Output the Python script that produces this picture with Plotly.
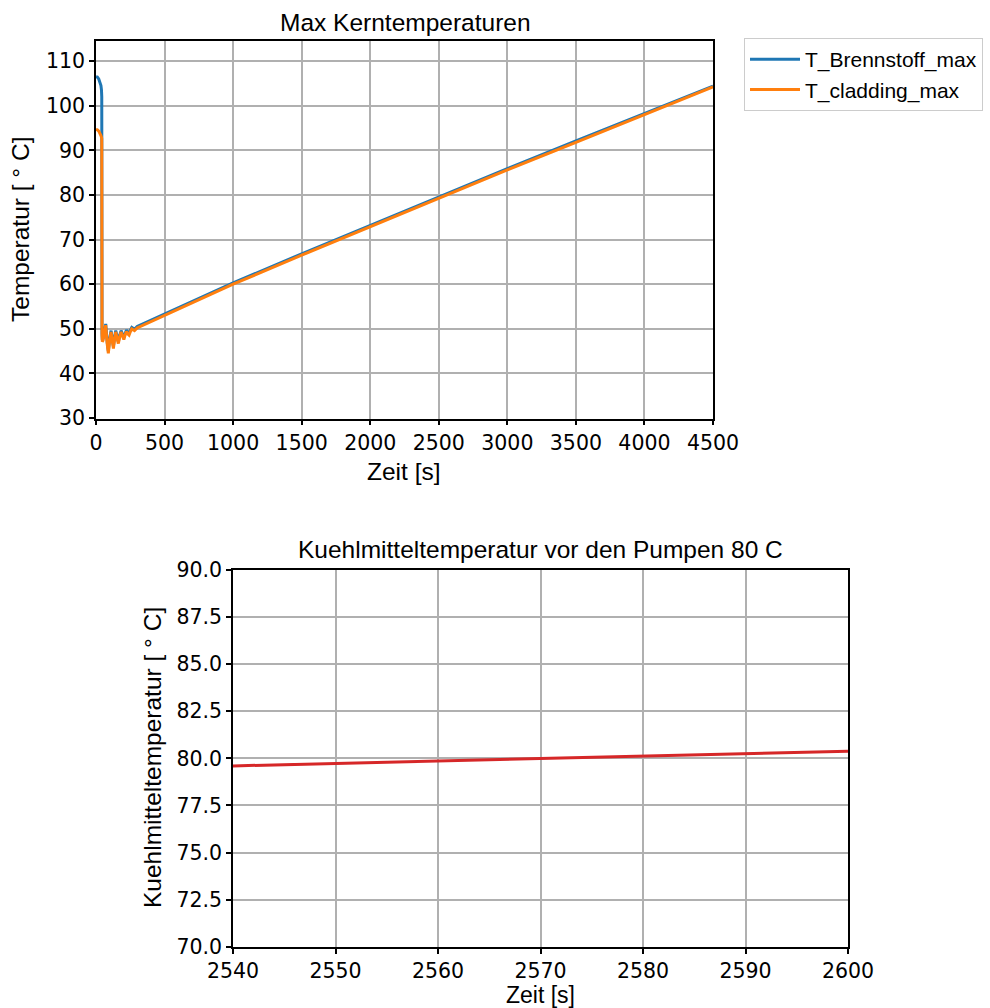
import plotly.graph_objects as go

# ---------------- data ----------------
t_core = [0, 10, 20, 30, 36, 40, 42, 44, 46, 52, 60, 71, 82, 90, 100, 110, 118, 127,
          136, 144, 153, 163, 173, 183, 193, 203, 212, 222, 231, 241, 251, 261, 271,
          281, 300, 500, 1000, 1500, 2000, 2500, 3000, 3500, 4000, 4500]
T_brennstoff = [106.5, 106.4, 106.0, 105.3, 104.5, 103.5, 102.0, 48.9, 47.5, 47.9, 49.4,
                51.1, 46.9, 45.0, 47.9, 49.6, 47.9, 46.1, 48.2, 49.6, 48.4, 47.1, 48.6,
                49.6, 48.8, 48.0, 48.9, 49.7, 49.3, 49.0, 49.7, 50.3, 50.1, 49.9, 50.5,
                53.3, 60.3, 66.8, 73.2, 79.6, 85.9, 92.1, 98.3, 104.4]
T_cladding = [94.7, 94.6, 94.3, 93.8, 93.3, 92.9, 92.6, 48.5, 47.1, 47.5, 49.0, 50.8,
              46.5, 44.5, 47.5, 49.3, 47.5, 45.6, 47.8, 49.3, 48.0, 46.7, 48.2, 49.3,
              48.4, 47.6, 48.6, 49.4, 48.9, 48.6, 49.4, 50.0, 49.8, 49.6, 50.2, 53.0,
              60.0, 66.5, 72.9, 79.3, 85.6, 91.8, 98.0, 104.2]

t_pump = [2540, 2550, 2560, 2570, 2580, 2590, 2600]
T_pump = [79.60, 79.73, 79.86, 80.00, 80.13, 80.26, 80.38]

x_ticks_top = [0, 500, 1000, 1500, 2000, 2500, 3000, 3500, 4000, 4500]
y_ticks_top = [30, 40, 50, 60, 70, 80, 90, 100, 110]
x_ticks_bot = [2540, 2550, 2560, 2570, 2580, 2590, 2600]
y_ticks_bot = [70.0, 72.5, 75.0, 77.5, 80.0, 82.5, 85.0, 87.5, 90.0]

W, H = 990, 1008
TICKFONT = dict(family="DejaVu Sans", size=20.5, color="black")
LABFONT = dict(family="Liberation Sans, Arial", size=24.5, color="black")

fig = go.Figure()
fig.add_trace(go.Scatter(x=t_core, y=T_brennstoff, mode="lines", name="T_Brennstoff_max",
                         line=dict(color="#1f77b4", width=3), xaxis="x", yaxis="y"))
fig.add_trace(go.Scatter(x=t_core, y=T_cladding, mode="lines", name="T_cladding_max",
                         line=dict(color="#ff7f0e", width=3), xaxis="x", yaxis="y"))
fig.add_trace(go.Scatter(x=t_pump, y=T_pump, mode="lines", name="pump", showlegend=False,
                         line=dict(color="#d62728", width=3), xaxis="x2", yaxis="y2"))

axis_common = dict(showline=True, linecolor="black", linewidth=1.6, mirror=True,
                   showgrid=True, gridcolor="#b0b0b0", gridwidth=1.6,
                   ticks="outside", ticklen=5, tickwidth=1.5, tickcolor="black",
                   tickfont=TICKFONT, zeroline=False, ticklabelstandoff=0,
                   automargin=False)

fig.update_layout(
    template="none",
    width=W, height=H,
    margin=dict(l=0, r=0, t=0, b=0, pad=0, autoexpand=False),
    paper_bgcolor="white", plot_bgcolor="white",
    xaxis=dict(domain=[96 / W, 713 / W], range=[0, 4500], tickvals=x_ticks_top,
               anchor="y", **axis_common),
    yaxis=dict(domain=[1 - 418.5 / H, 1 - 41 / H], range=[29.9, 114.5], tickvals=y_ticks_top,
               anchor="x", **axis_common),
    xaxis2=dict(domain=[233 / W, 848 / W], range=[2540, 2600], tickvals=x_ticks_bot,
                anchor="y2", **axis_common),
    yaxis2=dict(domain=[1 - 946.7 / H, 1 - 570 / H], range=[70, 90], tickvals=y_ticks_bot,
                tickformat=".1f", anchor="x2", **axis_common),
    legend=dict(x=744 / W, y=1 - 38 / H, xanchor="left", yanchor="top",
                bordercolor="#cccccc", borderwidth=1, bgcolor="white",
                font=dict(family="Liberation Sans, Arial", size=21, color="black"),
                itemwidth=50, tracegroupgap=0),
    showlegend=True,
)

def ann(text, xpx, ypx, angle=0, size=24.5):
    fig.add_annotation(text=text, x=xpx / W, y=1 - ypx / H, xref="paper", yref="paper",
                       xanchor="center", yanchor="middle", showarrow=False,
                       textangle=angle, font=dict(LABFONT, size=size))

ann("Max Kerntemperaturen", 405, 22)
ann("Zeit [s]", 404, 471)
ann("Temperatur [ ° C]", 21, 230, -90)
ann("Kuehlmitteltemperatur vor den Pumpen 80 C", 540, 549)
ann("Zeit [s]", 540, 994.5, size=23)
ann("Kuehlmitteltemperatur [ ° C]", 152, 758, -90)

fig.write_html("out.html")
